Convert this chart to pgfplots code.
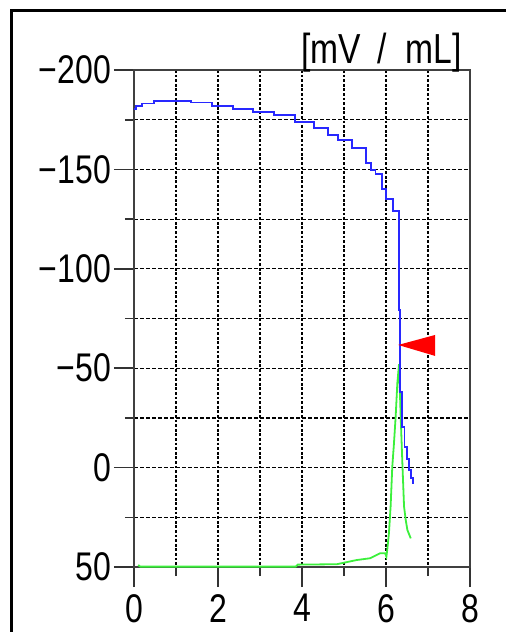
\documentclass[border=0pt]{standalone}
\usepackage{fontspec}
\setmainfont{Liberation Sans}[FakeStretch=0.8]
\usepackage{pgfplots}
\pgfplotsset{compat=1.18}
\pgfdeclareplotmark{flagtri}{%
  \pgfpathmoveto{\pgfpoint{0pt}{0pt}}%
  \pgfpathlineto{\pgfpoint{18.5pt}{5pt}}%
  \pgfpathlineto{\pgfpoint{18.5pt}{-5.5pt}}%
  \pgfpathclose\pgfusepathqfill}
\definecolor{bl}{RGB}{40,40,255}
\definecolor{gr}{RGB}{60,240,60}
\begin{document}
\begin{tikzpicture}
\path[use as bounding box] (-67pt,-32.5pt) rectangle (185.5pt,283.5pt);
\draw[line width=1.5pt] (-61pt,-40pt) -- (-61pt,278pt) -- (200pt,278pt);
\begin{axis}[at={(0,0)}, anchor=south west, scale only axis,
  width=168pt, height=248.5pt,
  xmin=0, xmax=8, ymin=-200, ymax=50, y dir=reverse,
  xtick={0,2,4,6,8}, xticklabels={0,2,4,6,8}, minor xtick={1,3,5,7},
  ytick={-200,-150,-100,-50,0,50}, yticklabels={−200,−150,−100,−50,0,50},
  minor ytick={-175,-125,-75,-25,25},
  xtick pos=bottom, ytick pos=left,
  tick align=outside, major tick length=10pt, minor tick length=4.5pt,
  tick style={black!80, line width=0.8pt},
  grid=both,
  major x grid style={black, line width=0.6pt, dash pattern=on 1.4pt off 0.9pt},
  minor x grid style={black, line width=0.6pt, dash pattern=on 1.4pt off 0.9pt},
  major y grid style={black, line width=0.6pt, dash pattern=on 2pt off 1pt},
  minor y grid style={black, line width=0.6pt, dash pattern=on 2pt off 1pt},
  axis line style={line width=0.9pt, black!75},
  ticklabel style={font=\fontsize{20}{22}\selectfont},
  yticklabel style={xshift=2pt},
  clip=false]
\addplot[gr, line width=0.9pt] coordinates {
(0.1,49.0)(0.15,49.8)(3.85,49.8)(3.9,48.8)(4.83,48.6)(5.30,46.5)(5.62,45.6)
(5.86,43.1)(5.98,43.1)(6.01,44.8)(6.03,41.4)(6.07,33.0)(6.11,19.6)(6.15,-0.5)
(6.19,-12.2)(6.23,-25.6)(6.27,-42.4)(6.31,-52)(6.35,-25.6)(6.39,-2.2)(6.43,19.6)
(6.47,26.4)(6.51,31.4)(6.59,35.6)};
\addplot[bl, line width=0.9pt, const plot mark left] coordinates {
(0,-180.4)(0.05,-182)(0.19,-183.2)(0.48,-184.6)(1.36,-183.7)(1.86,-182.0)
(2.35,-180.5)(2.84,-179)(3.33,-177.5)(3.83,-174)(4.29,-170.7)(4.61,-167.3)
(4.85,-164.8)(5.2,-160.9)(5.52,-153.1)(5.65,-149.7)(5.75,-147.5)(5.90,-140)
(6.0,-135)(6.17,-129.1)(6.31,-79.3)(6.33,-38.2)(6.38,-20.6)(6.44,-10.5)
(6.50,-4.2)(6.55,1.2)(6.59,5.4)(6.65,8.3)};
\addplot[red, only marks, mark=flagtri, mark options={fill=red, draw=red}] coordinates {(6.29,-61.7)};
\end{axis}
\node[anchor=base east, inner sep=0pt, font=\fontsize{21}{23}\selectfont]
  at ([xshift=-4pt,yshift=3.5pt]current axis.north east) {[mV\,\ /\ \ mL]};
\end{tikzpicture}
\end{document}
